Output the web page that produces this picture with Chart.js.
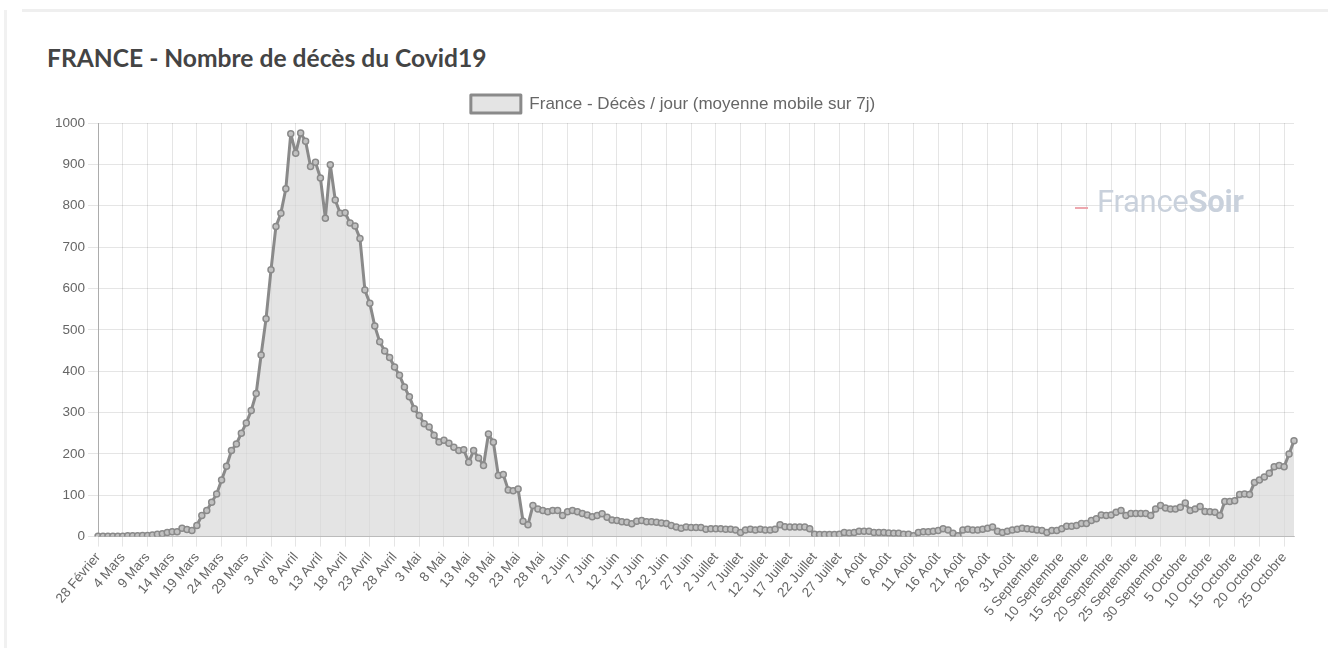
<!DOCTYPE html>
<html>
<head>
<meta charset="utf-8">
<script src="https://cdn.jsdelivr.net/npm/chart.js@4.4.0/dist/chart.umd.min.js"></script>
<style>
  html, body { margin:0; padding:0; background:#fff; width:1328px; height:648px; overflow:hidden; }
  #frameTop { position:absolute; left:22px; top:9px; width:1306px; height:3px; background:#efefef; }
  #frameLeft { position:absolute; left:4px; top:10px; width:3px; height:638px; background:#f1f1f1; }
  #title { position:absolute; left:47px; top:43px; font-family:Lato, sans-serif; font-weight:700; font-size:24.6px; color:#444; white-space:nowrap; }
  #wrap { position:absolute; left:0; top:80px; width:1328px; height:568px; }
  #wm { position:absolute; left:1097px; top:183px; font-family:Roboto, sans-serif; font-size:31px; color:#c9d1dc; white-space:nowrap; letter-spacing:-0.3px; }
  #wm b { font-weight:700; }
  #dash { position:absolute; left:1075px; top:207px; width:13px; height:2px; background:#eda7ae; }
</style>
</head>
<body>
<div id="frameTop"></div>
<div id="frameLeft"></div>
<div id="title">FRANCE - Nombre de décès du Covid19</div>
<div id="wrap"><canvas id="c" width="1328" height="568"></canvas></div>
<div id="dash"></div>
<div id="wm">France<b>Soir</b></div>
<script>
// Categories: days from 28 Février to 27 Octobre 2020
const monthNames = ['Février','Mars','Avril','Mai','Juin','Juillet','Août','Septembre','Octobre'];
const monthLengths = [29,31,30,31,30,31,31,30,31];
const firstDay = 28;
const seriesLabel = 'France - Décès / jour (moyenne mobile sur 7j)';

// Daily deaths, 7-day moving average, by month
const fevrier   = [1,1];
const mars      = [1,1,1,1,2,2,2,3,3,4,6,7,10,12,12,20,17,15,27,51,63,83,103,137,170,208,224,250,275,305,346];
const avril     = [439,527,645,750,782,841,974,927,976,956,895,905,867,770,899,814,782,783,758,751,721,596,564,509,471,449,433,410,390,362];
const mai       = [338,309,293,273,265,245,229,233,226,216,208,210,180,208,190,172,248,228,148,150,113,111,115,37,29,75,67,63,60,63,63];
const juin      = [51,60,63,60,56,52,48,51,55,47,40,39,36,35,31,37,39,36,36,35,33,32,27,23,20,23,22,22,22,18];
const juillet   = [19,19,19,18,18,16,10,16,18,16,18,16,16,18,29,24,23,23,23,23,19,6,5,5,5,5,6,10,9,10,13];
const aout      = [13,13,10,10,10,9,8,8,6,6,2,10,12,12,13,15,19,16,8,2,16,18,16,16,18,20,23,13,10,13,16];
const septembre = [18,20,19,18,16,15,10,15,15,19,25,25,27,32,32,39,43,52,51,52,59,63,51,56,56,56,56,51,67,75];
const octobre   = [69,67,67,71,81,63,67,73,61,60,59,51,85,85,87,102,103,102,131,137,144,153,169,172,169,200,232];

const yTicks = [0,100,200,300,400,500,600,700,800,900,1000];
const labelEvery = 5;

const values = [].concat(fevrier, mars, avril, mai, juin, juillet, aout, septembre, octobre);
const labels = [];
{
  let m = 0, d = firstDay;
  for (let i = 0; i < values.length; i++) {
    labels.push(d + ' ' + monthNames[m]);
    d++;
    if (d > monthLengths[m]) { d = 1; m++; }
  }
}

const tickFont = { family: "'Liberation Sans', Arial, sans-serif", size: 13.5 };

new Chart(document.getElementById('c'), {
  type: 'line',
  data: {
    labels: labels,
    datasets: [{
      label: seriesLabel,
      data: values,
      borderColor: '#8a8a8a',
      backgroundColor: 'rgba(215,215,215,0.68)',
      borderWidth: 3,
      borderJoinStyle: 'round',
      pointRadius: 3,
      pointBorderWidth: 1.5,
      pointBackgroundColor: 'rgba(195,195,195,0.95)',
      pointBorderColor: '#8a8a8a',
      fill: true,
      tension: 0
    }]
  },
  options: {
    responsive: false,
    animation: false,
    layout: { padding: { left: 52, right: 34, top: 5, bottom: 20 } },
    plugins: {
      legend: {
        display: true,
        position: 'top',
        labels: {
          boxWidth: 50,
          boxHeight: 18,
          color: '#666',
          font: { family: "'Liberation Sans', Arial, sans-serif", size: 17 },
          padding: 10
        }
      },
      tooltip: { enabled: false }
    },
    scales: {
      x: {
        offset: false,
        grid: {
          color: (ctx) => (ctx.index % labelEvery === 0 ? 'rgba(0,0,0,0.1)' : 'rgba(0,0,0,0)'),
          tickLength: 10
        },
        border: { color: 'rgba(0,0,0,0.2)' },
        ticks: {
          autoSkip: false,
          minRotation: 50,
          maxRotation: 50,
          color: '#666',
          font: tickFont,
          callback: function (val, i) { return i % labelEvery === 0 ? labels[i] : ''; }
        }
      },
      y: {
        min: yTicks[0],
        max: yTicks[yTicks.length - 1],
        grid: { color: 'rgba(0,0,0,0.1)', tickLength: 10 },
        border: { color: 'rgba(0,0,0,0.25)' },
        afterBuildTicks: (scale) => { scale.ticks = yTicks.map(v => ({ value: v })); },
        ticks: { color: '#666', font: tickFont, padding: 3, callback: (v) => String(v) }
      }
    }
  }
});
</script>
</body>
</html>
